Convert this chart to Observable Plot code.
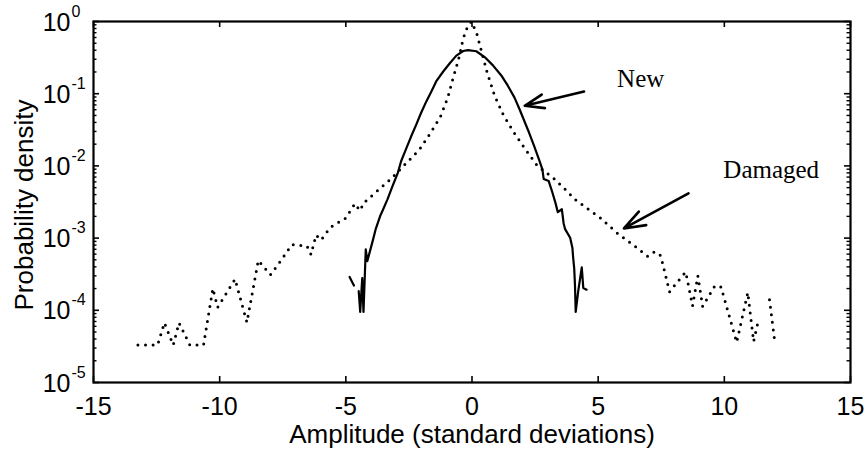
<!DOCTYPE html>
<html>
<head>
<meta charset="utf-8">
<script src="https://cdn.jsdelivr.net/npm/d3@7"></script>
<script src="https://cdn.jsdelivr.net/npm/@observablehq/plot@0.6"></script>
<style>
  html, body { margin: 0; padding: 0; background: #fff; }
</style>
</head>
<body>
<div id="chart"></div>
<script>
// ---- Data ----
// "New" bearing (solid line); NaN marks a gap in the trace
const newX = [-4.85, -4.68, -4.60, -4.49, -4.43, -4.35, -4.30, -4.21, -4.15, -4.08, -3.94, -3.82, -3.64, -3.55, -3.35,
  -3.15, -2.94, -2.81, -2.62, -2.41, -2.21, -2.02, -1.81, -1.61, -1.42, -1.14, -0.88, -0.62, -0.35, -0.16,
  0.17, 0.50, 0.83, 1.16, 1.42, 1.68, 1.88, 2.07, 2.26, 2.46, 2.65, 2.79, 2.84, 3.04, 3.18, 3.31, 3.40, 3.56,
  3.63, 3.69, 3.89, 3.98, 4.01, 4.05, 4.08, 4.11, 4.21, 4.35, 4.41, 4.54];
const newY = [2.9e-4, 2.2e-4, NaN, 1.85e-4, 9.5e-5, 2.8e-4, 9.5e-5, 7.0e-4, 4.8e-4, 5.9e-4, 9.0e-4, 1.32e-3, 2.02e-3, 2.37e-3, 3.44e-3,
  5.24e-3, 8.0e-3, 1.16e-2, 1.69e-2, 2.57e-2, 3.73e-2, 5.41e-2, 7.82e-2, 0.107, 0.148, 0.203, 0.264, 0.337, 0.390, 0.402,
  0.387, 0.322, 0.247, 0.179, 0.129, 0.0889, 0.0614, 0.0422, 0.0290, 0.0189, 0.0124, 0.00897, 0.00659, 0.00617, 0.00435, 0.00305, 0.00229, 0.00251,
  0.00161, 0.00133, 0.00101, 7.3e-4, 5.3e-4, 3.85e-4, 2.28e-4, 9.5e-5, 1.84e-4, 3.94e-4, 2.04e-4, 1.93e-4];

// "Damaged" bearing (dotted line)
const damagedX = [-13.24, -12.46, -12.19, -11.84, -11.61, -11.18, -10.64, -10.27, -10.08, -9.39, -8.92, -8.47, -7.99, -7.55,
  -7.14, -6.54, -6.38, -6.18, -5.98, -5.62, -5.00, -4.64, -4.44, -4.28, -3.19, -2.63, -2.09, -1.65, -1.25, -0.96,
  -0.76, -0.54, -0.37, -0.25, -0.03, 0.18, 0.60, 0.90, 1.24, 1.64, 2.09, 2.59, 3.22, 3.76, 4.05, 5.09, 5.76,
  6.36, 6.96, 7.24, 7.48, 7.83, 8.07, 8.47, 8.74, 8.95, 9.14, 9.63, 9.87, 10.49, 10.93, 11.16, 11.32, 11.55, 11.79, 11.99];
const damagedY = [3.3e-5, 3.3e-5, 6.7e-5, 3.3e-5, 6.7e-5, 3.3e-5, 3.3e-5, 2.0e-4, 1.1e-4, 2.7e-4, 6.8e-5, 4.9e-4, 3.1e-4, 5.0e-4,
  8.1e-4, 7.8e-4, 5.9e-4, 1.1e-3, 9.4e-4, 1.4e-3, 1.9e-3, 3.0e-3, 2.4e-3, 3.1e-3, 6.7e-3, 1.07e-2, 1.67e-2, 2.84e-2, 4.81e-2, 8.83e-2,
  0.160, 0.292, 0.537, 0.75, 1.0, 0.70, 0.197, 0.093, 0.051, 0.0299, 0.0175, 0.0100, 0.0068, 0.0045, 0.0035, 0.0019, 0.00117,
  8.2e-4, 5.6e-4, 6.5e-4, 5.7e-4, 1.8e-4, 2.3e-4, 3.4e-4, 1.15e-4, 3.0e-4, 1.13e-4, 2.2e-4, 2.1e-4, 3.6e-5, 1.76e-4, 3.7e-5, 6.5e-5, NaN, 1.4e-4, 3.9e-5];

// Axes
const xTicks = [-15, -10, -5, 0, 5, 10, 15];
const yTicks = [1, 0.1, 0.01, 0.001, 0.0001, 0.00001];
const yExponents = ["0", "-1", "-2", "-3", "-4", "-5"];
const xTitle = "Amplitude (standard deviations)";
const yTitle = "Probability density";

// Annotations
const labelText = ["New", "Damaged"];
const labelX = [5.75, 9.96];
const labelY = [0.161, 0.0087];
const arrowX1 = [4.44, 8.58];
const arrowY1 = [0.107, 0.00417];
const arrowX2 = [2.09, 6.02];
const arrowY2 = [0.068, 0.00136];

// ---- Build tables ----
const newData = newX.map((x, i) => ({x, y: newY[i]}));
const damagedData = damagedX.map((x, i) => ({x, y: damagedY[i]}));
const labels = labelText.map((t, i) => ({t, x: labelX[i], y: labelY[i]}));
const arrows = arrowX1.map((x1, i) => ({x1, y1: arrowY1[i], x2: arrowX2[i], y2: arrowY2[i]}));
const minorTicks = d3.scaleLog().domain([1e-5, 1]).ticks().filter(v => !yTicks.some(t => Math.abs(t - v) / t < 1e-6));

const W = 867, H = 450, mL = 93, mR = 17, mT = 21, mB = 68;
const innerW = W - mL - mR, innerH = H - mT - mB;
const sans = "'Liberation Sans', Arial, Helvetica, sans-serif";
const serif = "'Liberation Serif', 'Times New Roman', Times, serif";

const chart = Plot.plot({
  width: W, height: H,
  marginLeft: mL, marginRight: mR, marginTop: mT, marginBottom: mB,
  x: {domain: [-15, 15], axis: null},
  y: {type: "log", domain: [1e-5, 1], axis: null},
  style: {fontFamily: sans, background: "white", color: "black", overflow: "visible"},
  marks: [
    // inward ticks (MATLAB style box)
    Plot.ruleX(xTicks, {x: d => d, insetTop: innerH - 6, strokeWidth: 1.6}),
    Plot.ruleX(xTicks, {x: d => d, insetBottom: innerH - 6, strokeWidth: 1.6}),
    Plot.ruleY(yTicks, {y: d => d, insetRight: innerW - 6, strokeWidth: 1.6}),
    Plot.ruleY(yTicks, {y: d => d, insetLeft: innerW - 6, strokeWidth: 1.6}),
    Plot.ruleY(minorTicks, {y: d => d, insetRight: innerW - 3.5, strokeWidth: 1.4}),
    Plot.ruleY(minorTicks, {y: d => d, insetLeft: innerW - 3.5, strokeWidth: 1.4}),
    Plot.frame({stroke: "black", strokeWidth: 2.2}),
    // tick labels
    Plot.text(xTicks, {x: d => d, text: d => String(d), frameAnchor: "bottom", dy: 24, textAnchor: "middle", lineAnchor: "middle", fontSize: 25, fill: "black"}),
    Plot.text(yTicks, {y: d => d, text: () => "10", frameAnchor: "left", dx: -23, dy: 1, textAnchor: "end", lineAnchor: "middle", fontSize: 25, fill: "black"}),
    Plot.text(yTicks, {y: d => d, text: (d, i) => yExponents[i], frameAnchor: "left", dx: -22, dy: -10, textAnchor: "start", lineAnchor: "middle", fontSize: 16, fill: "black"}),
    // axis titles
    Plot.text([xTitle], {text: d => d, frameAnchor: "bottom", dy: 60, textAnchor: "middle", lineAnchor: "bottom", fontSize: 26, fill: "black"}),
    Plot.text([yTitle], {text: d => d, frameAnchor: "left", dx: -61, dy: 3, rotate: -90, textAnchor: "middle", lineAnchor: "bottom", fontSize: 26, fill: "black"}),
    // data
    Plot.line(newData, {x: "x", y: "y", stroke: "black", strokeWidth: 2.2, strokeLinejoin: "round"}),
    Plot.line(damagedData, {x: "x", y: "y", stroke: "black", strokeWidth: 3, strokeDasharray: "0,7.6", strokeLinecap: "round"}),
    // annotations
    Plot.arrow(arrows, {x1: "x1", y1: "y1", x2: "x2", y2: "y2", stroke: "black", strokeWidth: 2.6, headLength: 13, headAngle: 40}),
    Plot.text(labels, {x: "x", y: "y", text: "t", textAnchor: "start", lineAnchor: "middle", fontSize: 25, fontFamily: serif, fill: "black"})
  ]
});
document.getElementById("chart").appendChild(chart);
</script>
</body>
</html>
